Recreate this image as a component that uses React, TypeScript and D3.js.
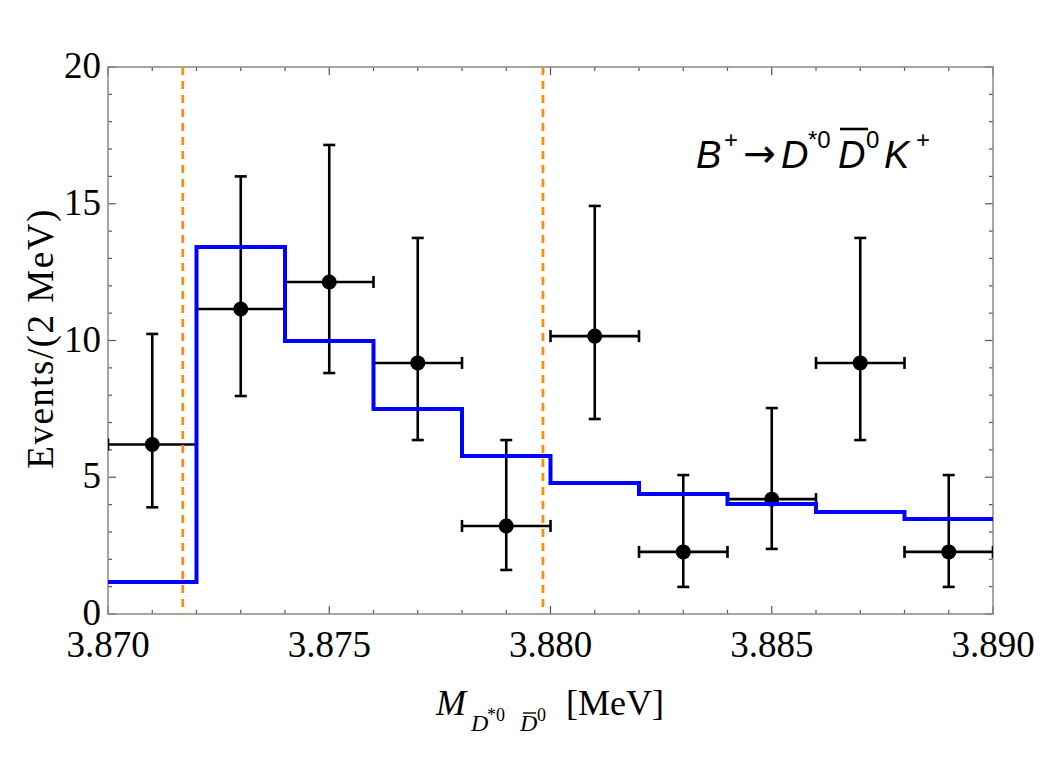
import React from 'react';
import * as d3 from 'd3';

// fit histogram (2 MeV bins)
const binEdges = [3.870, 3.872, 3.874, 3.876, 3.878, 3.880, 3.882, 3.884, 3.886, 3.888, 3.890];
const fitValues = [1.17, 13.42, 9.98, 7.5, 5.78, 4.79, 4.39, 4.02, 3.73, 3.47];

// data points
const pointMass = [3.871, 3.873, 3.875, 3.877, 3.879, 3.881, 3.883, 3.885, 3.887, 3.889];
const pointEvents = [6.2, 11.15, 12.14, 9.18, 3.22, 10.16, 2.27, 4.2, 9.18, 2.27];
const errHigh = [10.24, 16.0, 17.15, 13.75, 6.36, 14.92, 5.08, 7.53, 13.75, 5.08];
const errLow = [3.9, 7.97, 8.81, 6.36, 1.61, 7.13, 0.99, 2.38, 6.36, 0.99];
const halfBin = 0.001;

// thresholds
const thresholds = [3.87169, 3.87983];

const xTicks = [3.870, 3.875, 3.880, 3.885, 3.890];
const yTicks = [0, 5, 10, 15, 20];

const W = 1042;
const H = 784;
const left = 108, right = 993, top = 67, bottom = 614;
const serif = '"Liberation Serif", "Times New Roman", serif';
const sans = '"Liberation Sans", Arial, sans-serif';

export default function App() {
  const x = d3.scaleLinear().domain([3.870, 3.890]).range([left, right]);
  const y = d3.scaleLinear().domain([0, 20]).range([bottom, top]);

  const stepLine = d3
    .line<number>()
    .x((_, i) => x(binEdges[i]))
    .y((d) => y(d))
    .curve(d3.curveStepAfter);
  const fitPath = stepLine([...fitValues, fitValues[fitValues.length - 1]]) || '';

  const xMinor = d3.range(0, 21).map((i) => 3.870 + i * 0.001);
  const yMinor = d3.range(0, 21);
  const isMajorX = (v: number) => Math.abs(Math.round(v * 200) - v * 200) < 1e-6;

  const cap = 6;

  return (
    <svg width={W} height={H} style={{ position: 'absolute', left: 0, top: 0, background: '#fff' }}>
      <defs>
        <clipPath id="plot">
          <rect x={left} y={top} width={right - left} height={bottom - top} />
        </clipPath>
      </defs>

      {/* frame ticks */}
      <g stroke="#555" strokeWidth={1.2}>
        {xMinor.map((v, i) => {
          const len = isMajorX(v) ? 8 : 4;
          return (
            <g key={'xt' + i}>
              <line x1={x(v)} x2={x(v)} y1={bottom} y2={bottom - len} />
              <line x1={x(v)} x2={x(v)} y1={top} y2={top + len} />
            </g>
          );
        })}
        {yMinor.map((v) => {
          const len = v % 5 === 0 ? 8 : 4;
          return (
            <g key={'yt' + v}>
              <line x1={left} x2={left + len} y1={y(v)} y2={y(v)} />
              <line x1={right} x2={right - len} y1={y(v)} y2={y(v)} />
            </g>
          );
        })}
      </g>
      <rect x={left} y={top} width={right - left} height={bottom - top} fill="none" stroke="#888" strokeWidth={1.5} />

      {/* data points with error bars */}
      <g clipPath="url(#plot)" stroke="#000" strokeWidth={2.6}>
        {pointMass.map((m, i) => (
          <g key={'p' + i}>
            <line x1={x(m - halfBin)} x2={x(m + halfBin)} y1={y(pointEvents[i])} y2={y(pointEvents[i])} />
            <line x1={x(m - halfBin)} x2={x(m - halfBin)} y1={y(pointEvents[i]) - cap} y2={y(pointEvents[i]) + cap} />
            <line x1={x(m + halfBin)} x2={x(m + halfBin)} y1={y(pointEvents[i]) - cap} y2={y(pointEvents[i]) + cap} />
            <line x1={x(m)} x2={x(m)} y1={y(errLow[i])} y2={y(errHigh[i])} />
            <line x1={x(m) - cap} x2={x(m) + cap} y1={y(errLow[i])} y2={y(errLow[i])} />
            <line x1={x(m) - cap} x2={x(m) + cap} y1={y(errHigh[i])} y2={y(errHigh[i])} />
            <circle cx={x(m)} cy={y(pointEvents[i])} r={7.5} fill="#000" stroke="none" />
          </g>
        ))}
      </g>

      {/* fit */}
      <path d={fitPath} fill="none" stroke="#0000ff" strokeWidth={4} clipPath="url(#plot)" />

      {/* thresholds */}
      {thresholds.map((t, i) => (
        <line key={'th' + i} x1={x(t)} x2={x(t)} y1={top} y2={bottom} stroke="#ff8a10" strokeWidth={2.8} strokeDasharray="8,6" />
      ))}

      {/* tick labels */}
      <g fontFamily={serif} fontSize={37} fill="#000">
        {xTicks.map((v) => (
          <text key={'xl' + v} x={x(v)} y={657} textAnchor="middle">{d3.format('.3f')(v)}</text>
        ))}
        {yTicks.map((v) => (
          <text key={'yl' + v} x={101} y={y(v) + 11} textAnchor="end">{v}</text>
        ))}
      </g>

      {/* axis titles */}
      <text x={436} y={715} fontFamily={serif} fontSize={36} fill="#000">
        <tspan fontStyle="italic">M</tspan>
        <tspan x={471} y={731} fontSize={24} fontStyle="italic">D</tspan>
        <tspan x={487} y={721} fontSize={18}>*0</tspan>
        <tspan x={520} y={731} fontSize={24} fontStyle="italic">D</tspan>
        <tspan x={537} y={721} fontSize={18}>0</tspan>
        <tspan x={566} y={715}>[MeV]</tspan>
      </text>
      <line x1={523} x2={536} y1={713} y2={713} stroke="#000" strokeWidth={1.4} />

      <text
        transform={`translate(53,${(top + bottom) / 2 - 2}) rotate(-90)`}
        textAnchor="middle"
        fontFamily={serif}
        fontSize={37}
        letterSpacing={1.5}
        fill="#000"
      >
        Events/(2 MeV)
      </text>

      {/* decay label */}
      <g fontFamily={sans} fill="#000">
        <text x={696} y={168} fontSize={38} fontStyle="italic">B</text>
        <text x={724} y={148} fontSize={24}>+</text>
        <text x={743} y={167} fontSize={39} fontFamily='"DejaVu Sans", sans-serif'>→</text>
        <text x={781} y={168} fontSize={38} fontStyle="italic">D</text>
        <text x={808} y={148} fontSize={24}>*0</text>
        <text x={838} y={168} fontSize={38} fontStyle="italic">D</text>
        <line x1={840} x2={868} y1={129} y2={129} stroke="#000" strokeWidth={2.6} />
        <text x={866} y={148} fontSize={24}>0</text>
        <text x={884} y={168} fontSize={38} fontStyle="italic">K</text>
        <text x={916} y={148} fontSize={24}>+</text>
      </g>
    </svg>
  );
}
